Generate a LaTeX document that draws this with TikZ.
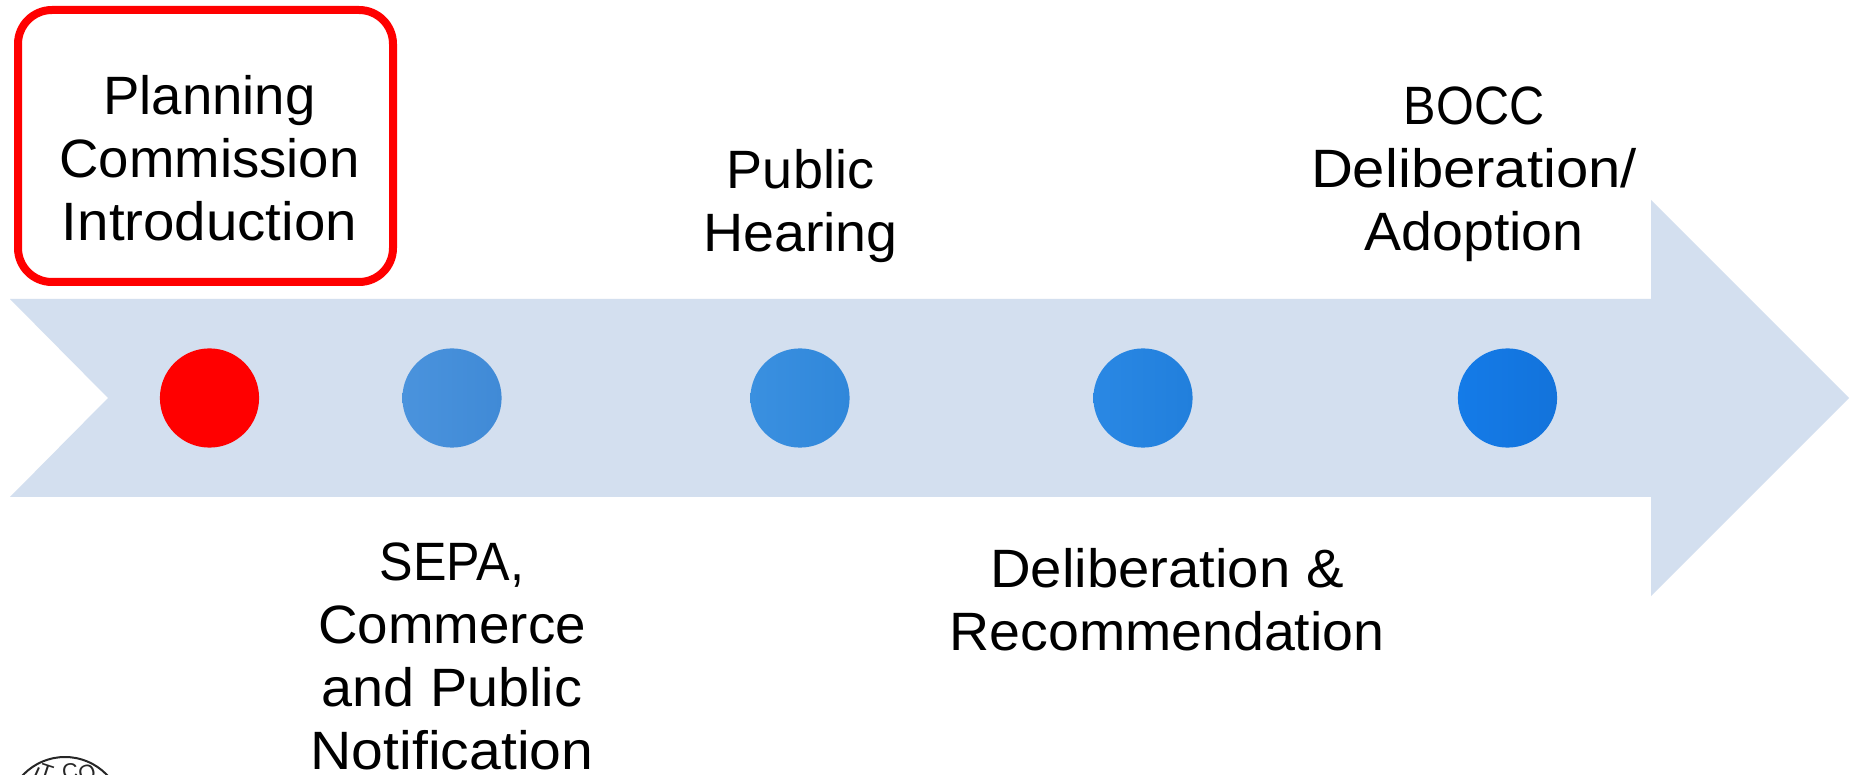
\documentclass[tikz,border=0pt]{standalone}
\usepackage{fontspec}
\setmainfont{Liberation Sans}
\definecolor{band}{HTML}{D3DFEF}
\definecolor{redmark}{HTML}{FF0000}
\definecolor{dAa}{HTML}{4A93DD}\definecolor{dAb}{HTML}{408AD6}
\definecolor{dBa}{HTML}{3A90E0}\definecolor{dBb}{HTML}{3087DA}
\definecolor{dCa}{HTML}{2A88E4}\definecolor{dCb}{HTML}{217FDC}
\definecolor{dDa}{HTML}{147BE8}\definecolor{dDb}{HTML}{1373DB}
\newcommand{\fitline}[2]{\scalebox{#1}[1]{#2}}
\tikzset{
  x=0.5pt,y=-0.5pt,
  label/.style={font=\fontsize{27}{31.5}\selectfont,align=center,inner sep=0pt,text=black},
  dotmark/.style={circle,minimum size=49.6pt,inner sep=0pt,shading=axis,shading angle=135},
  sealtext/.style={font=\fontsize{11}{11}\selectfont,inner sep=0pt,text=black!85}
}
\begin{document}
\begin{tikzpicture}
\useasboundingbox (0,0) rectangle (1860,775);
\clip (0,0) rectangle (1860,775);
\fill[white] (0,0) rectangle (1860,775);
\fill[band] (10,299) -- (1651,299) -- (1651,200) -- (1849,398) -- (1651,596) -- (1651,497) -- (10,497) -- (108,398) -- cycle;
\draw[redmark,line width=4pt,fill=white,rounded corners=17pt] (18,10) rectangle (393,282);
\node[circle,minimum size=49.6pt,inner sep=0pt,fill=redmark] (d1) at (209.5,398) {};
\node[dotmark,left color=dAa,right color=dAb] (d2) at (452,398) {};
\node[dotmark,left color=dBa,right color=dBb] (d3) at (800,398) {};
\node[dotmark,left color=dCa,right color=dCb] (d4) at (1143,398) {};
\node[dotmark,left color=dDa,right color=dDb] (d5) at (1507.5,398) {};
\node[label] (t1) at (209.5,158) {\fitline{1.01}{Planning}\\\fitline{1.01}{Commission}\\\fitline{1.046}{Introduction}};
\node[label] (t2) at (452,656) {\fitline{.93}{SEPA,}\\\fitline{1.014}{Commerce}\\\fitline{1.033}{and Public}\\\fitline{1.058}{Notification}};
\node[label] (t3) at (800.5,206) {Public\\\fitline{1.03}{Hearing}};
\node[label] (t4) at (1167,600) {\fitline{1.042}{Deliberation \&}\\\fitline{1.028}{Recommendation}};
\node[label] (t5) at (1474,174.5) {\fitline{.9}{BOCC}\\\fitline{1.075}{Deliberation/}\\\fitline{1.028}{Adoption}};
\draw[black!85,line width=1pt] (65,815) circle[radius=58];
\node[sealtext,rotate=-24] (s1) at (36,775) {I};
\node[sealtext,rotate=-18] (s2) at (46,772) {T};
\node[sealtext,rotate=4] (s3) at (70,771) {C};
\node[sealtext,rotate=16] (s4) at (87,773) {O};
\end{tikzpicture}
\end{document}
